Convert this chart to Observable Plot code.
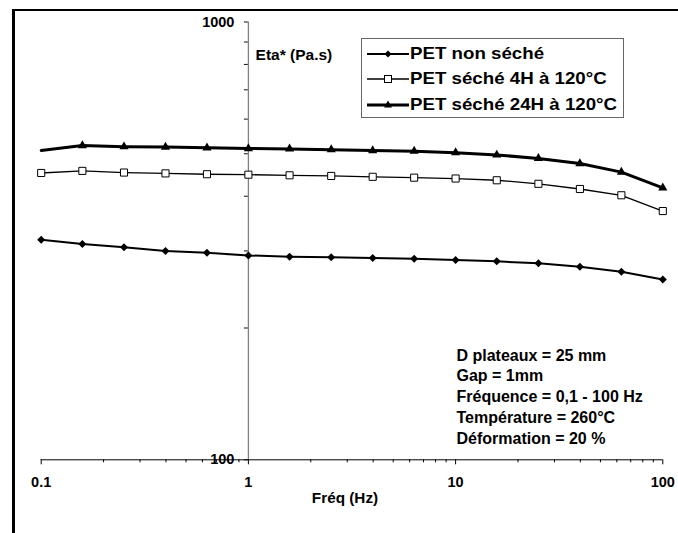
<!DOCTYPE html>
<html>
<head>
<meta charset="utf-8">
<script src="https://cdn.jsdelivr.net/npm/d3@7"></script>
<script src="https://cdn.jsdelivr.net/npm/@observablehq/plot@0.6"></script>
<style>
  body { margin: 0; background: #fff; }
  #wrap { position: relative; width: 678px; height: 533px; overflow: hidden;
          font-family: "Liberation Sans", Arial, sans-serif; font-weight: bold; color: #000; background: #fff; }
  #wrap > svg { position: absolute; left: 0; top: 0; }
  .frameTop { position: absolute; left: 12px; top: 9px; right: 0; height: 2px; background: #000; }
  .frameLeft { position: absolute; left: 12px; top: 9px; bottom: 0; width: 3px; background: #000; }
  #legend { position: absolute; left: 360.5px; top: 38px; width: 261px; height: 78px; border: 1px solid #666; background: #fff; }
  .lrow { position: absolute; left: 0; height: 26px; display: flex; align-items: center; font-size: 17px; white-space: nowrap; }
  .lrow svg { position: static; display: block; margin-left: 5px; margin-right: 1px; flex: none; }
  .lrow span { display: inline-block; transform: scaleX(1.1); transform-origin: 0 50%; }
  #notes { position: absolute; left: 456.5px; top: 345.5px; font-size: 16px; line-height: 20.8px; white-space: nowrap; }
</style>
</head>
<body>
<div id="wrap"></div>
<script>
// ---- data ----
const freq = [0.1, 0.158, 0.251, 0.398, 0.631, 1, 1.58, 2.51, 3.98, 6.31, 10, 15.8, 25.1, 39.8, 63.1, 100];
const etaNonSeche = [318, 311, 306, 300, 297, 293, 291, 290, 289, 288, 286, 284, 281, 276, 269, 258];
const eta4H = [452, 457, 453, 451, 449, 448, 446.5, 445, 443, 441, 439, 435, 427, 415.5, 402, 370];
const eta24H = [509, 522, 519, 518, 516, 514, 513, 511, 508.5, 507, 503, 497, 488, 475, 454, 418];
const seriesNames = ["PET non séché", "PET séché 4H à 120°C", "PET séché 24H à 120°C"];
const xMajorTicks = [0.1, 1, 10, 100];
const xTickLabels = ["0.1", "1", "10", "100"];
const xMinorTicks = [0.2, 0.3, 0.4, 0.5, 0.6, 0.7, 0.8, 0.9, 2, 3, 4, 5, 6, 7, 8, 9, 20, 30, 40, 50, 60, 70, 80, 90];
const yMajorTicks = [100, 1000];
const yTickLabels = ["100", "1000"];
const yMinorTicks = [200, 300, 400, 500, 600, 700, 800, 900];
const xTitle = "Fréq (Hz)";
const yTitle = "Eta* (Pa.s)";
const notes = ["D plateaux = 25 mm", "Gap = 1mm", "Fréquence = 0,1 - 100 Hz", "Température = 260°C", "Déformation = 20 %"];

// ---- layout ----
const W = 678, H = 533;
const mL = 40.7, mR = 15.7, mT = 21.5, mB = 73.7;
const xDomain = [0.1, 100], yDomain = [100, 1000];
// offset of the y axis (drawn where x = 1) from the left edge of the frame
const dxY = (W - mL - mR) * Math.log10(1 / xDomain[0]) / Math.log10(xDomain[1] / xDomain[0]);

const rows = freq.map((f, i) => ({f, i, a: etaNonSeche[i], b: eta4H[i], c: eta24H[i]}));

const chart = Plot.plot({
  width: W, height: H,
  marginLeft: mL, marginRight: mR, marginTop: mT, marginBottom: mB,
  x: {type: "log", domain: xDomain},
  y: {type: "log", domain: yDomain},
  style: {fontFamily: "'Liberation Sans', Arial, sans-serif", fontWeight: "bold", fontSize: "14.5px", background: "transparent", overflow: "visible", color: "#000"},
  marks: [
    Plot.axisY({ticks: yMinorTicks, tickSize: 4, tickFormat: () => "", label: null, dx: dxY, stroke: "#111"}),
    Plot.axisY({ticks: yMajorTicks, tickSize: 4, tickPadding: 10, tickFormat: d => yTickLabels[yMajorTicks.indexOf(d)], label: null, dx: dxY, stroke: "#111", fontSize: 14.5}),
    Plot.axisX({ticks: xMinorTicks, tickSize: 3, tickFormat: () => "", label: null}),
    Plot.axisX({ticks: xMajorTicks, tickSize: 5, tickPadding: 12, tickFormat: d => xTickLabels[xMajorTicks.indexOf(d)], label: null, fontSize: 14.5}),
    Plot.ruleX([1], {stroke: "#808080", strokeWidth: 1.3}),
    Plot.ruleY([100], {stroke: "#000", strokeWidth: 1}),
    Plot.text([xTitle], {text: d => d, frameAnchor: "bottom", dx: -7, dy: 43, fontSize: 15.3, fontWeight: "bold"}),
    Plot.text([yTitle], {text: d => d, frameAnchor: "top-left", textAnchor: "start", dx: dxY + 7.2, dy: 26.5, fontSize: 15.5, fontWeight: "bold"}),
    // PET non séché
    Plot.line(rows, {x: "f", y: "a", stroke: "#000", strokeWidth: 2}),
    Plot.dot(rows, {x: "f", y: "a", symbol: "diamond2", r: 3.6, fill: "#000", stroke: "none"}),
    // PET séché 4H
    Plot.line(rows, {x: "f", y: "b", stroke: "#000", strokeWidth: 1.3}),
    Plot.dot(rows, {x: "f", y: "b", symbol: "square", r: 4, fill: "#fff", stroke: "#000", strokeWidth: 1}),
    // PET séché 24H
    Plot.line(rows, {x: "f", y: "c", stroke: "#000", strokeWidth: 3}),
    Plot.dot(rows.filter(d => d.i > 0), {x: "f", y: "c", symbol: "triangle", r: 3.4, fill: "#000", stroke: "none"})
  ]
});

const wrap = document.getElementById("wrap");
wrap.appendChild(chart);

const ft = document.createElement("div"); ft.className = "frameTop"; wrap.appendChild(ft);
const fl = document.createElement("div"); fl.className = "frameLeft"; wrap.appendChild(fl);

// ---- legend ----
const swatches = [
  `<line x1="0" y1="13" x2="42" y2="13" stroke="#000" stroke-width="2"/><path d="M21,9.5 L24.5,13 L21,16.5 L17.5,13 Z" fill="#000"/>`,
  `<line x1="0" y1="13" x2="42" y2="13" stroke="#000" stroke-width="1.3"/><rect x="17.5" y="9.5" width="7" height="7" fill="#fff" stroke="#000" stroke-width="1"/>`,
  `<line x1="0" y1="13" x2="42" y2="13" stroke="#000" stroke-width="3"/><path d="M21,8.5 L25,15.5 L17,15.5 Z" fill="#000"/>`
];
const legend = document.createElement("div");
legend.id = "legend";
seriesNames.forEach((name, i) => {
  const row = document.createElement("div");
  row.className = "lrow";
  row.style.top = (1.5 + i * 25.7) + "px";
  row.innerHTML = `<svg width="42" height="26">${swatches[i]}</svg><span>${name}</span>`;
  legend.appendChild(row);
});
wrap.appendChild(legend);

// ---- notes ----
const nt = document.createElement("div");
nt.id = "notes";
nt.innerHTML = notes.map(s => `<div>${s}</div>`).join("");
wrap.appendChild(nt);
</script>
</body>
</html>
